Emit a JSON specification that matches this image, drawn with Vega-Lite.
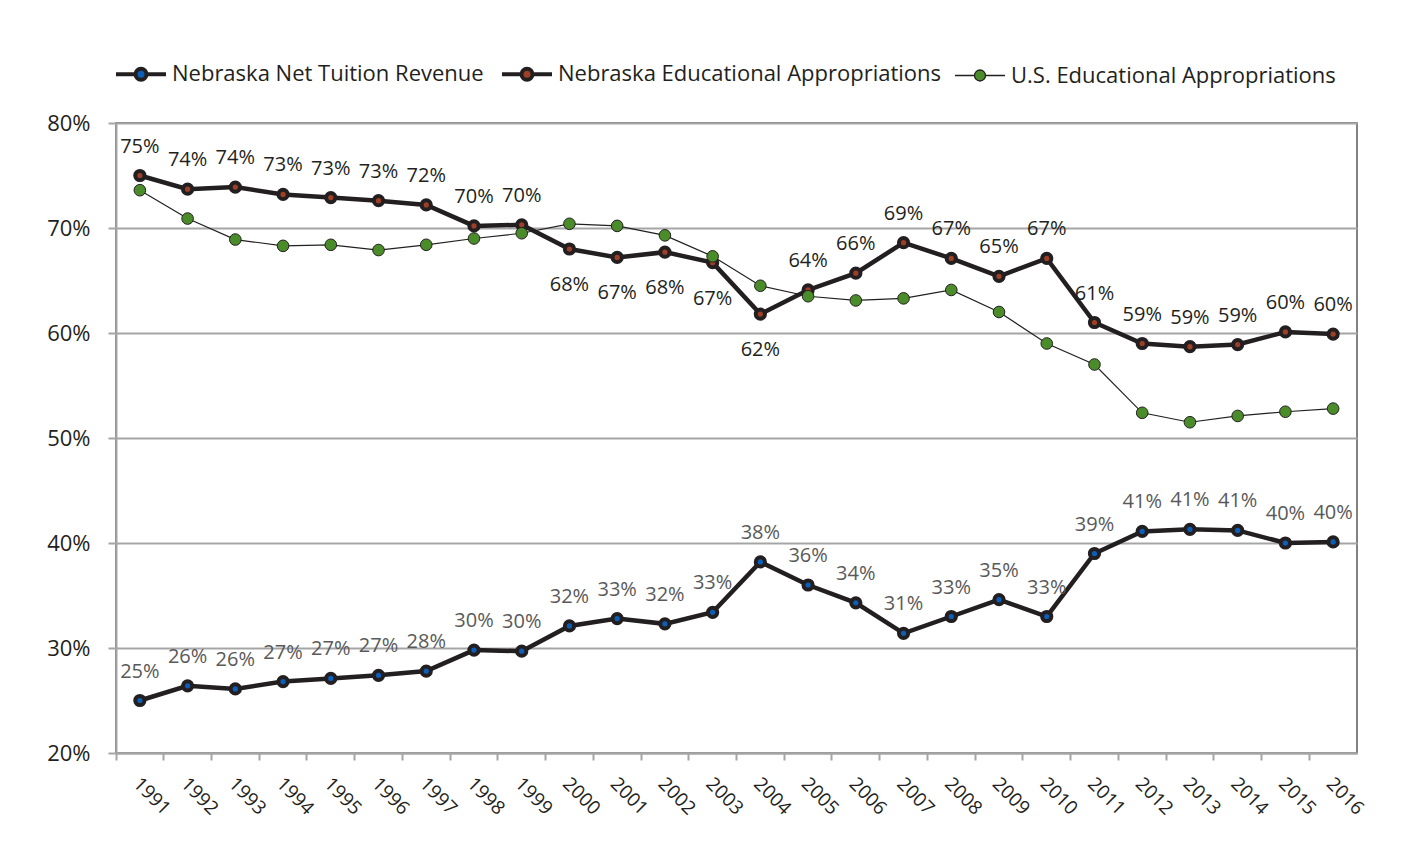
{
  "$schema": "https://vega.github.io/schema/vega-lite/v6.json",
  "width": 1241,
  "height": 630,
  "autosize": {"type": "none"},
  "padding": {"left": 116, "top": 123, "right": 59, "bottom": 105},
  "background": "#ffffff",
  "config": {
    "font": "Open Sans",
    "view": {"stroke": "#595959", "strokeWidth": 1.5}
  },
  "data": {
    "values": [
      {"year": "1991", "series": "Nebraska Net Tuition Revenue", "value": 0.250},
      {"year": "1992", "series": "Nebraska Net Tuition Revenue", "value": 0.264},
      {"year": "1993", "series": "Nebraska Net Tuition Revenue", "value": 0.261},
      {"year": "1994", "series": "Nebraska Net Tuition Revenue", "value": 0.268},
      {"year": "1995", "series": "Nebraska Net Tuition Revenue", "value": 0.271},
      {"year": "1996", "series": "Nebraska Net Tuition Revenue", "value": 0.274},
      {"year": "1997", "series": "Nebraska Net Tuition Revenue", "value": 0.278},
      {"year": "1998", "series": "Nebraska Net Tuition Revenue", "value": 0.298},
      {"year": "1999", "series": "Nebraska Net Tuition Revenue", "value": 0.297},
      {"year": "2000", "series": "Nebraska Net Tuition Revenue", "value": 0.321},
      {"year": "2001", "series": "Nebraska Net Tuition Revenue", "value": 0.328},
      {"year": "2002", "series": "Nebraska Net Tuition Revenue", "value": 0.323},
      {"year": "2003", "series": "Nebraska Net Tuition Revenue", "value": 0.334},
      {"year": "2004", "series": "Nebraska Net Tuition Revenue", "value": 0.382},
      {"year": "2005", "series": "Nebraska Net Tuition Revenue", "value": 0.360},
      {"year": "2006", "series": "Nebraska Net Tuition Revenue", "value": 0.343},
      {"year": "2007", "series": "Nebraska Net Tuition Revenue", "value": 0.314},
      {"year": "2008", "series": "Nebraska Net Tuition Revenue", "value": 0.330},
      {"year": "2009", "series": "Nebraska Net Tuition Revenue", "value": 0.346},
      {"year": "2010", "series": "Nebraska Net Tuition Revenue", "value": 0.330},
      {"year": "2011", "series": "Nebraska Net Tuition Revenue", "value": 0.390},
      {"year": "2012", "series": "Nebraska Net Tuition Revenue", "value": 0.411},
      {"year": "2013", "series": "Nebraska Net Tuition Revenue", "value": 0.413},
      {"year": "2014", "series": "Nebraska Net Tuition Revenue", "value": 0.412},
      {"year": "2015", "series": "Nebraska Net Tuition Revenue", "value": 0.400},
      {"year": "2016", "series": "Nebraska Net Tuition Revenue", "value": 0.401},
      {"year": "1991", "series": "Nebraska Educational Appropriations", "value": 0.750},
      {"year": "1992", "series": "Nebraska Educational Appropriations", "value": 0.737},
      {"year": "1993", "series": "Nebraska Educational Appropriations", "value": 0.739},
      {"year": "1994", "series": "Nebraska Educational Appropriations", "value": 0.732},
      {"year": "1995", "series": "Nebraska Educational Appropriations", "value": 0.729},
      {"year": "1996", "series": "Nebraska Educational Appropriations", "value": 0.726},
      {"year": "1997", "series": "Nebraska Educational Appropriations", "value": 0.722},
      {"year": "1998", "series": "Nebraska Educational Appropriations", "value": 0.702},
      {"year": "1999", "series": "Nebraska Educational Appropriations", "value": 0.703},
      {"year": "2000", "series": "Nebraska Educational Appropriations", "value": 0.680},
      {"year": "2001", "series": "Nebraska Educational Appropriations", "value": 0.672},
      {"year": "2002", "series": "Nebraska Educational Appropriations", "value": 0.677},
      {"year": "2003", "series": "Nebraska Educational Appropriations", "value": 0.667},
      {"year": "2004", "series": "Nebraska Educational Appropriations", "value": 0.618},
      {"year": "2005", "series": "Nebraska Educational Appropriations", "value": 0.641},
      {"year": "2006", "series": "Nebraska Educational Appropriations", "value": 0.657},
      {"year": "2007", "series": "Nebraska Educational Appropriations", "value": 0.686},
      {"year": "2008", "series": "Nebraska Educational Appropriations", "value": 0.671},
      {"year": "2009", "series": "Nebraska Educational Appropriations", "value": 0.654},
      {"year": "2010", "series": "Nebraska Educational Appropriations", "value": 0.671},
      {"year": "2011", "series": "Nebraska Educational Appropriations", "value": 0.610},
      {"year": "2012", "series": "Nebraska Educational Appropriations", "value": 0.590},
      {"year": "2013", "series": "Nebraska Educational Appropriations", "value": 0.587},
      {"year": "2014", "series": "Nebraska Educational Appropriations", "value": 0.589},
      {"year": "2015", "series": "Nebraska Educational Appropriations", "value": 0.601},
      {"year": "2016", "series": "Nebraska Educational Appropriations", "value": 0.599},
      {"year": "1991", "series": "U.S. Educational Appropriations", "value": 0.736},
      {"year": "1992", "series": "U.S. Educational Appropriations", "value": 0.709},
      {"year": "1993", "series": "U.S. Educational Appropriations", "value": 0.689},
      {"year": "1994", "series": "U.S. Educational Appropriations", "value": 0.683},
      {"year": "1995", "series": "U.S. Educational Appropriations", "value": 0.684},
      {"year": "1996", "series": "U.S. Educational Appropriations", "value": 0.679},
      {"year": "1997", "series": "U.S. Educational Appropriations", "value": 0.684},
      {"year": "1998", "series": "U.S. Educational Appropriations", "value": 0.690},
      {"year": "1999", "series": "U.S. Educational Appropriations", "value": 0.695},
      {"year": "2000", "series": "U.S. Educational Appropriations", "value": 0.704},
      {"year": "2001", "series": "U.S. Educational Appropriations", "value": 0.702},
      {"year": "2002", "series": "U.S. Educational Appropriations", "value": 0.693},
      {"year": "2003", "series": "U.S. Educational Appropriations", "value": 0.673},
      {"year": "2004", "series": "U.S. Educational Appropriations", "value": 0.645},
      {"year": "2005", "series": "U.S. Educational Appropriations", "value": 0.635},
      {"year": "2006", "series": "U.S. Educational Appropriations", "value": 0.631},
      {"year": "2007", "series": "U.S. Educational Appropriations", "value": 0.633},
      {"year": "2008", "series": "U.S. Educational Appropriations", "value": 0.641},
      {"year": "2009", "series": "U.S. Educational Appropriations", "value": 0.620},
      {"year": "2010", "series": "U.S. Educational Appropriations", "value": 0.590},
      {"year": "2011", "series": "U.S. Educational Appropriations", "value": 0.570},
      {"year": "2012", "series": "U.S. Educational Appropriations", "value": 0.524},
      {"year": "2013", "series": "U.S. Educational Appropriations", "value": 0.515},
      {"year": "2014", "series": "U.S. Educational Appropriations", "value": 0.521},
      {"year": "2015", "series": "U.S. Educational Appropriations", "value": 0.525},
      {"year": "2016", "series": "U.S. Educational Appropriations", "value": 0.528}
    ]
  },
  "encoding": {
    "x": {
      "field": "year",
      "type": "ordinal",
      "scale": {"type": "band", "paddingInner": 0, "paddingOuter": 0},
      "axis": {
        "title": null,
        "bandPosition": 0,
        "labelOffset": 3,
        "labelAngle": 45,
        "labelAlign": "left",
        "labelBaseline": "top",
        "labelFontSize": 19,
        "labelColor": "#231f20",
        "labelPadding": 14,
        "tickSize": 7,
        "tickWidth": 2,
        "tickColor": "#a5a5a5",
        "domainColor": "#a5a5a5",
        "domainWidth": 2,
        "grid": false
      }
    },
    "y": {
      "field": "value",
      "type": "quantitative",
      "scale": {"domain": [0.2, 0.8], "nice": false, "zero": false},
      "axis": {
        "title": null,
        "values": [0.2, 0.3, 0.4, 0.5, 0.6, 0.7, 0.8],
        "format": ".0%",
        "labelFontSize": 22,
        "labelColor": "#231f20",
        "labelPadding": 18,
        "tickSize": 8,
        "tickWidth": 2,
        "tickColor": "#a5a5a5",
        "domainColor": "#a5a5a5",
        "domainWidth": 2,
        "grid": true,
        "gridColor": "#a5a5a5",
        "gridWidth": 2
      }
    }
  },
  "layer": [
    {
      "transform": [{"filter": "datum.series !== 'U.S. Educational Appropriations'"}],
      "mark": {"type": "line", "stroke": "#231f20", "strokeWidth": 4.5},
      "encoding": {"detail": {"field": "series"}}
    },
    {
      "transform": [{"filter": "datum.series !== 'U.S. Educational Appropriations'"}],
      "mark": {"type": "point", "filled": true, "size": 85, "stroke": "#231f20", "strokeWidth": 4, "opacity": 1},
      "encoding": {
        "fill": {
          "field": "series",
          "type": "nominal",
          "scale": {
            "domain": ["Nebraska Net Tuition Revenue", "Nebraska Educational Appropriations", "U.S. Educational Appropriations"],
            "range": ["#0c5fb9", "#9e3f28", "#4a8c2a"]
          },
          "legend": {
            "title": null,
            "orient": "none",
            "legendX": 14,
            "legendY": -60,
            "direction": "horizontal",
            "labelFontSize": 22,
            "labelColor": "#231f20",
            "labelLimit": 0,
            "labelOffset": 20,
            "columnPadding": 10,
            "symbolSize": 2500,
            "symbolType": "M-1,0L-0.22,0M0.22,0L1,0M0.22,0A0.22,0.22,0,1,1,-0.22,0A0.22,0.22,0,1,1,0.22,0Z",
            "symbolStrokeColor": "#231f20",
            "symbolOpacity": 1,
            "encode": {
              "symbols": {
                "update": {
                  "shape": {"value": "M-1,0L-0.22,0M0.22,0L1,0M0.22,0A0.22,0.22,0,1,1,-0.22,0A0.22,0.22,0,1,1,0.22,0Z"},
                  "stroke": {"value": "#231f20"},
                  "strokeWidth": {"signal": "datum.value === 'U.S. Educational Appropriations' ? 1.3 : 4"}
                }
              }
            }
          }
        }
      }
    },
    {
      "transform": [{"filter": "datum.series === 'U.S. Educational Appropriations'"}],
      "mark": {"type": "line", "stroke": "#231f20", "strokeWidth": 1.2},
      "encoding": {}
    },
    {
      "transform": [{"filter": "datum.series === 'U.S. Educational Appropriations'"}],
      "mark": {"type": "point", "filled": true, "size": 135, "stroke": "#231f20", "strokeWidth": 1, "opacity": 1},
      "encoding": {"fill": {"field": "series", "type": "nominal"}}
    },
    {
      "transform": [{"filter": "datum.series === 'Nebraska Educational Appropriations' && (datum.year < '2000' || datum.year > '2004')"}],
      "mark": {"type": "text", "fontSize": 20, "color": "#231f20", "baseline": "alphabetic", "dy": -23},
      "encoding": {"text": {"field": "value", "type": "quantitative", "format": ".0%"}}
    },
    {
      "transform": [{"filter": "datum.series === 'Nebraska Educational Appropriations' && datum.year >= '2000' && datum.year <= '2004'"}],
      "mark": {"type": "text", "fontSize": 20, "color": "#231f20", "baseline": "alphabetic", "dy": 42},
      "encoding": {"text": {"field": "value", "type": "quantitative", "format": ".0%"}}
    },
    {
      "transform": [{"filter": "datum.series === 'Nebraska Net Tuition Revenue'"}],
      "mark": {"type": "text", "fontSize": 20, "color": "#595959", "baseline": "alphabetic", "dy": -23},
      "encoding": {"text": {"field": "value", "type": "quantitative", "format": ".0%"}}
    }
  ]
}
